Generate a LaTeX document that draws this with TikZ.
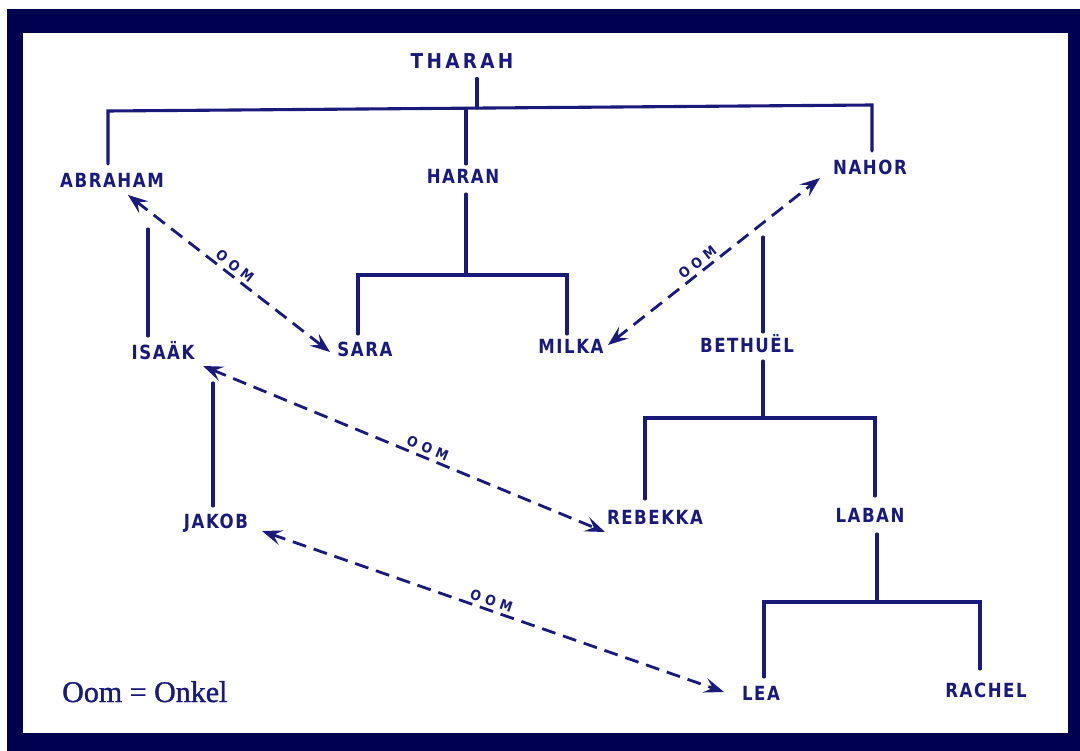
\documentclass[tikz,border=0pt]{standalone}
\usepackage{fontspec}
\usetikzlibrary{arrows.meta,calc}
\newfontfamily\namefam{DejaVu Sans}[FakeStretch=0.85,LetterSpace=8]
\newfontfamily\titlefam{DejaVu Sans}[FakeStretch=0.9,LetterSpace=16]
\newfontfamily\oomfam{DejaVu Sans}[FakeStretch=0.9,LetterSpace=35]
\newfontfamily\legendfam{Liberation Serif}[FakeBold=1.3]
\definecolor{navy}{RGB}{0,0,80}
\definecolor{ink}{RGB}{26,26,122}
\tikzset{
  person/.style={inner sep=0pt, outer sep=0pt, text=ink, text height=14pt, text depth=0pt,
    font=\namefam\bfseries\fontsize{19.5}{19.5}\selectfont},
  tree/.style={draw=ink, line width=3.1pt, line cap=round},
  oom/.style={draw=ink, line width=2.8pt, dash pattern=on 14pt off 8pt,
    {Stealth[length=20pt,width=15pt,inset=8pt]}-{Stealth[length=20pt,width=15pt,inset=8pt]}},
  oomlabel/.style={sloped, above=3pt, inner sep=0pt, text=ink,
    font=\oomfam\bfseries\fontsize{14}{14}\selectfont}
}
\begin{document}
\begin{tikzpicture}[x=1pt,y=-1pt]
\useasboundingbox (0,0) rectangle (1080,751);
\fill[white] (0,0) rectangle (1080,751);
\fill[navy] (7,9) rectangle (1080,751);
\fill[white] (23,33) rectangle (1068,733);

% people
\node[person, text height=15pt, font=\titlefam\bfseries\fontsize{20.5}{20.5}\selectfont] (tharah) at (462,61) {THARAH};
\node[person] (abraham) at (112,181) {ABRAHAM};
\node[person] (haran) at (463,177) {HARAN};
\node[person] (nahor) at (870,168) {NAHOR};
\node[person] (sara) at (365,350) {SARA};
\node[person] (milka) at (571,347) {MILKA};
\node[person] (isaak) at (163,353) {ISAÄK};
\node[person] (bethuel) at (747,346) {BETHUËL};
\node[person] (rebekka) at (655,517) {REBEKKA};
\node[person] (laban) at (870,515) {LABAN};
\node[person] (jakob) at (216,522) {JAKOB};
\node[person] (lea) at (761,693) {LEA};
\node[person] (rachel) at (986,690) {RACHEL};
\node[anchor=base west, inner sep=0pt, text=ink, font=\legendfam\fontsize{30}{30}\selectfont] (legend) at (62,702) {Oom = Onkel};

% junctions
\coordinate (tL) at (108,111);
\coordinate (tR) at (872,105);
\coordinate (tk) at (477,108);
\coordinate (h1) at (466,108.3);
\coordinate (h2) at (466,275);
\coordinate (b2) at (763,418);
\coordinate (l2) at (877,602);

% family tree
\draw[tree] ($(tharah.south)+(15,10)$) -- (tk);
\draw[tree] ($(abraham.north)+(-4,-10)$) -- (tL) -- (tR) -- ($(nahor.north)+(2,-10)$);
\draw[tree] (h1) -- ($(haran.north)+(3,-6)$);
\draw[tree] ($(haran.south)+(3,10)$) -- (h2);
\draw[tree] ($(sara.north)+(-7,-9)$) |- (h2) -| ($(milka.north)+(-4,-6)$);
\draw[tree] ($(abraham.south)+(36,41)$) -- ($(isaak.north)+(-15,-10)$);
\draw[tree] ($(isaak.south)+(50,23)$) -- ($(jakob.north)+(-3,-9)$);
\draw[tree] ($(nahor.south)+(-107,62)$) -- ($(bethuel.north)+(16,-7)$);
\draw[tree] ($(bethuel.south)+(16,8)$) -- (b2);
\draw[tree] ($(rebekka.north)+(-10,-11)$) |- (b2) -| ($(laban.north)+(5,-12)$);
\draw[tree] ($(laban.south)+(7,12)$) -- (l2);
\draw[tree] ($(lea.north)+(3,-9)$) |- (l2) -| ($(rachel.north)+(-6,-14)$);

% uncle relations
\draw[oom] ($(abraham)+(16,14)$) -- node[oomlabel, pos=0.5] {OOM} ($(sara)+(-35,2)$);
\draw[oom] ($(milka)+(37,-2)$) -- node[oomlabel, pos=0.45] {OOM} ($(nahor)+(-50,10)$);
\draw[oom] ($(isaak)+(40,13)$) -- node[oomlabel, pos=0.55] {OOM} ($(rebekka)+(-50,15)$);
\draw[oom] ($(jakob)+(46,9)$) -- node[oomlabel, pos=0.49] {OOM} ($(lea)+(-37,-1)$);
\end{tikzpicture}
\end{document}
